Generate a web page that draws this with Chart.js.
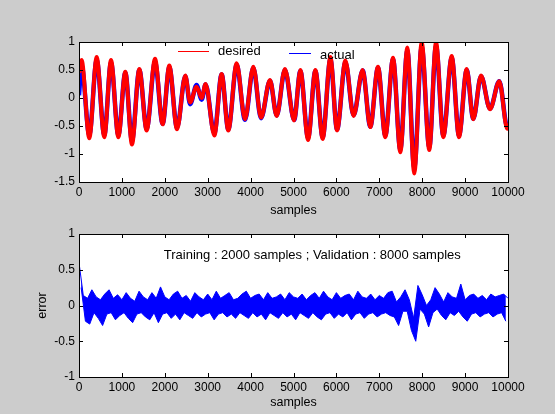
<!DOCTYPE html>
<html>
<head>
<meta charset="utf-8">
<script src="https://cdn.jsdelivr.net/npm/chart.js@4/dist/chart.umd.min.js"></script>
<style>
  body { margin: 0; background: #cccccc; }
  #wrap { position: relative; width: 555px; height: 414px; background: #cccccc; }
  canvas { position: absolute; left: 0; }
</style>
</head>
<body>
<div id="wrap">
  <canvas id="topChart" width="555" height="220" style="top:0"></canvas>
  <canvas id="errChart" width="555" height="194" style="top:220px"></canvas>
</div>
<script>
// sample positions of the turning points
let turnSamples = [0, 60, 240, 412, 590, 746, 917, 1080, 1235, 1406, 1577, 1772, 1950, 2105, 2285,
    2478, 2590, 2740, 2860, 2950, 3155, 3325, 3480, 3675, 3870, 4063, 4243, 4452, 4608, 4800,
    5015, 5160, 5340, 5510, 5680, 5860, 6015, 6210, 6400, 6612, 6790, 6970, 7140, 7320, 7490,
    7653, 7815, 7988, 8165, 8322, 8492, 8688, 8858, 9037, 9191, 9371, 9580, 9797, 9983, 10000];

let desired = [0.45, 0.68, -0.72, 0.73, -0.70, 0.68, -0.70, 0.47, -0.83, 0.52, -0.58, 0.70, -0.47, 0.58, -0.56,
    0.40, -0.08, 0.20, 0.00, 0.25, -0.67, 0.43, -0.58, 0.62, -0.38, 0.56, -0.35, 0.32, -0.32, 0.52,
    -0.40, 0.50, -0.75, 0.50, -0.73, 0.73, -0.58, 0.67, -0.32, 0.50, -0.52, 0.56, -0.70, 0.72, -0.97,
    0.90, -1.35, 1.00, -0.93, 1.00, -0.70, 0.75, -0.70, 0.52, -0.38, 0.40, -0.20, 0.30, -0.55, -0.45];

let actual = [0.05, 0.58, -0.66, 0.68, -0.66, 0.63, -0.66, 0.45, -0.76, 0.50, -0.55, 0.64, -0.46, 0.55, -0.53,
    0.39, -0.11, 0.23, -0.03, 0.24, -0.63, 0.42, -0.56, 0.59, -0.39, 0.54, -0.36, 0.31, -0.31, 0.50,
    -0.39, 0.48, -0.71, 0.48, -0.70, 0.69, -0.56, 0.64, -0.31, 0.49, -0.51, 0.54, -0.67, 0.69, -0.92,
    0.85, -1.25, 0.92, -0.88, 0.93, -0.67, 0.72, -0.67, 0.50, -0.37, 0.39, -0.19, 0.30, -0.52, -0.43];

// error band: upper edge every 100 samples (0..10000), lower edge in between (50..9950)
let errUpper = [0.60, 0.14, 0.10, 0.22, 0.12, 0.08, 0.16, 0.22, 0.10, 0.15,
    0.08, 0.18, 0.10, 0.06, 0.20, 0.12, 0.08, 0.18, 0.10, 0.26,
    0.12, 0.08, 0.16, 0.20, 0.10, 0.14, 0.06, 0.18, 0.12, 0.08,
    0.16, 0.08, 0.20, 0.10, 0.14, 0.18, 0.08, 0.10, 0.16, 0.20,
    0.10, 0.14, 0.16, 0.08, 0.18, 0.10, 0.12, 0.16, 0.08, 0.18,
    0.12, 0.10, 0.16, 0.08, 0.14, 0.18, 0.10, 0.20, 0.12, 0.08,
    0.18, 0.10, 0.14, 0.16, 0.08, 0.20, 0.12, 0.10, 0.16, 0.08,
    0.14, 0.10, 0.18, 0.20, 0.05, 0.12, 0.22, 0.08, -0.18, 0.28,
    0.15, 0.00, 0.08, 0.25, 0.16, 0.05, 0.18, 0.12, 0.10, 0.30,
    0.08, 0.14, 0.16, 0.10, 0.14, 0.08, 0.16, 0.12, 0.14, 0.16,
    0.10];

let errLower = [0.25, -0.22, -0.26, -0.10, -0.18, -0.28, -0.12, -0.10, -0.20, -0.14,
    -0.10, -0.18, -0.24, -0.12, -0.10, -0.16, -0.20, -0.10, -0.24, -0.12,
    -0.10, -0.18, -0.12, -0.20, -0.10, -0.14, -0.18, -0.10, -0.16, -0.12,
    -0.10, -0.20, -0.12, -0.10, -0.16, -0.12, -0.18, -0.10, -0.14, -0.18,
    -0.10, -0.16, -0.12, -0.20, -0.10, -0.14, -0.18, -0.10, -0.16, -0.12,
    -0.20, -0.10, -0.14, -0.18, -0.10, -0.16, -0.20, -0.12, -0.10, -0.18,
    -0.12, -0.16, -0.10, -0.20, -0.12, -0.10, -0.18, -0.12, -0.10, -0.16,
    -0.12, -0.10, -0.14, -0.16, -0.28, -0.08, -0.08, -0.35, -0.50, -0.05,
    -0.12, -0.30, -0.10, -0.05, -0.14, -0.20, -0.10, -0.14, -0.08, -0.16,
    -0.22, -0.12, -0.10, -0.16, -0.12, -0.10, -0.16, -0.12, -0.10, -0.22];

let topTicks = [-1.5, -1, -0.5, 0, 0.5, 1];
let errTicks = [-1, -0.5, 0, 0.5, 1];

const RED = '#ff0000';
const BLUE = '#0000ff';
const TEXT_FONT = "13px 'Liberation Sans', Arial, sans-serif";

Chart.defaults.font.family = "'Liberation Sans', Arial, sans-serif";
Chart.defaults.font.size = 12;
Chart.defaults.color = '#000';
Chart.defaults.animation = false;

// grey figure, white axes, box with inward ticks on all four sides
const matlabAxes = {
    id: 'matlabAxes',
    beforeDraw(chart){
        let ctx = chart.ctx;
        let a = chart.chartArea;
        ctx.save();
        ctx.fillStyle = '#cccccc';
        ctx.fillRect(0, 0, chart.width, chart.height);
        ctx.fillStyle = '#ffffff';
        ctx.fillRect(a.left, a.top, a.right - a.left, a.bottom - a.top);
        ctx.restore();
    },
    afterDraw(chart){
        let ctx = chart.ctx;
        let a = chart.chartArea;
        let sx = chart.scales.x;
        let sy = chart.scales.y;
        ctx.save();
        ctx.strokeStyle = '#000';
        ctx.lineWidth = 1;
        ctx.beginPath();
        sx.ticks.forEach(t => {
            let p = Math.round(sx.getPixelForValue(t.value)) + 0.5;
            ctx.moveTo(p, a.bottom); ctx.lineTo(p, a.bottom - 4);
            ctx.moveTo(p, a.top); ctx.lineTo(p, a.top + 4);
        });
        sy.ticks.forEach(t => {
            let p = Math.round(sy.getPixelForValue(t.value)) + 0.5;
            ctx.moveTo(a.left, p); ctx.lineTo(a.left + 4, p);
            ctx.moveTo(a.right, p); ctx.lineTo(a.right - 4, p);
        });
        ctx.stroke();
        ctx.strokeRect(Math.round(a.left) + 0.5, Math.round(a.top) + 0.5,
            Math.round(a.right - a.left), Math.round(a.bottom - a.top));
        ctx.restore();
    }
};

// legend without box, like the matlab one
const lineLegend = {
    id: 'lineLegend',
    afterDraw(chart){
        let ctx = chart.ctx;
        let spots = [
            { label: 'desired', color: RED, x0: 178, x1: 209, ly: 51, tx: 218, ty: 51 },
            { label: 'actual', color: BLUE, x0: 289, x1: 311, ly: 53, tx: 320, ty: 55 }
        ];
        ctx.save();
        spots.forEach(s => {
            ctx.fillStyle = s.color;
            ctx.fillRect(s.x0, s.ly, s.x1 - s.x0, 1);
            ctx.fillStyle = '#000';
            ctx.font = TEXT_FONT;
            ctx.textBaseline = 'middle';
            ctx.fillText(s.label, s.tx, s.ty);
        });
        ctx.restore();
    }
};

// text(2000, 0.7, ...) on the error plot
const noteText = {
    id: 'noteText',
    afterDraw(chart){
        let ctx = chart.ctx;
        ctx.save();
        ctx.fillStyle = '#000';
        ctx.font = TEXT_FONT;
        ctx.textBaseline = 'middle';
        ctx.fillText('Training : 2000 samples ; Validation : 8000 samples',
            chart.scales.x.getPixelForValue(2000) - 1, chart.scales.y.getPixelForValue(0.7));
        ctx.restore();
    }
};

function xAxis(height, titlePad){
    return {
        type: 'linear', min: 0, max: 10000,
        grid: { display: false, drawTicks: false }, border: { display: false },
        ticks: { stepSize: 1000, padding: 3, maxRotation: 0, autoSkip: false, callback: v => String(v) },
        title: { display: true, text: 'samples', font: { size: 12.5 }, padding: { top: 0, bottom: titlePad } },
        afterFit: s => { s.height = height; }
    };
}

function yAxis(min, max, tickList, title){
    return {
        min: min, max: max,
        grid: { display: false, drawTicks: false }, border: { display: false },
        afterBuildTicks: s => { s.ticks = tickList.map(v => ({ value: v })); },
        ticks: { padding: 4, callback: v => String(v) },
        title: { display: !!title, text: title, font: { size: 12.5 }, padding: { top: 35, bottom: 0 } },
        afterFit: s => { s.width = 79; }
    };
}

let desiredPts = turnSamples.map((x, i) => ({ x: x, y: desired[i] }));
let actualPts = turnSamples.map((x, i) => ({ x: x, y: actual[i] }));

new Chart(document.getElementById('topChart'), {
    type: 'line',
    data: {
        datasets: [
            { label: 'desired', data: desiredPts, borderColor: RED, borderWidth: 4,
              cubicInterpolationMode: 'monotone', pointRadius: 0 },
            { label: 'actual', data: actualPts, borderColor: BLUE, borderWidth: 4.5,
              cubicInterpolationMode: 'monotone', pointRadius: 0 }
        ]
    },
    options: {
        responsive: false,
        layout: { padding: { left: 0, top: 42, right: 47, bottom: 0 } },
        plugins: { legend: { display: false }, tooltip: { enabled: false } },
        scales: { x: xAxis(38, 2), y: yAxis(-1.5, 1, topTicks, '') }
    },
    plugins: [matlabAxes, lineLegend]
});

let upperPts = errUpper.map((v, i) => ({ x: i * 100, y: v }));
let lowerPts = errLower.map((v, i) => ({ x: i * 100 + 50, y: v }));

new Chart(document.getElementById('errChart'), {
    type: 'line',
    data: {
        datasets: [
            { label: 'error', data: upperPts, borderColor: BLUE, borderWidth: 1,
              fill: false, tension: 0, pointRadius: 0 },
            { label: 'error low', data: lowerPts, borderColor: BLUE, backgroundColor: BLUE, borderWidth: 1,
              fill: '-1', tension: 0, pointRadius: 0 }
        ]
    },
    options: {
        responsive: false,
        layout: { padding: { left: 0, top: 14, right: 47, bottom: 0 } },
        plugins: { legend: { display: false }, tooltip: { enabled: false } },
        scales: { x: xAxis(37, 4), y: yAxis(-1, 1, errTicks, 'error') }
    },
    plugins: [matlabAxes, noteText]
});
</script>
</body>
</html>
